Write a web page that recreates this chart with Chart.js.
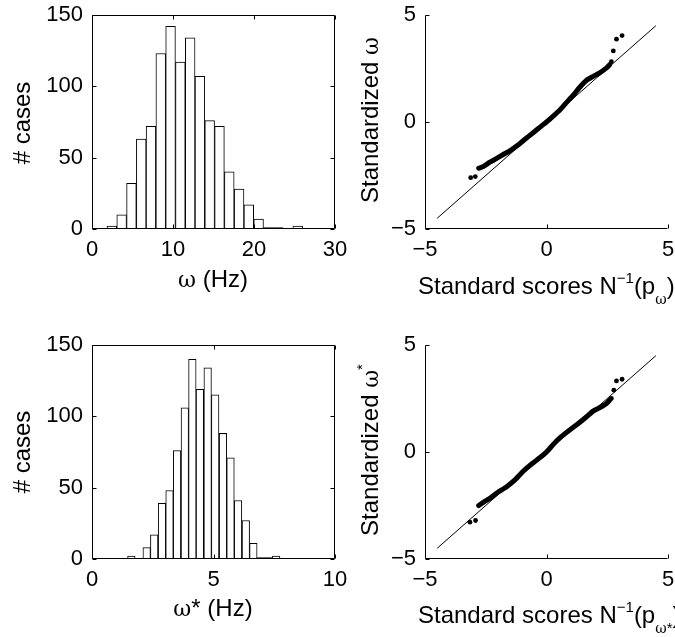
<!DOCTYPE html>
<html>
<head>
<meta charset="utf-8">
<script src="https://cdn.jsdelivr.net/npm/chart.js@4.4.1/dist/chart.umd.min.js"></script>
<style>
  html, body { margin: 0; padding: 0; background: #fff; overflow: hidden; }
  #wrap { position: relative; width: 675px; height: 637px; overflow: hidden; font-family: "Liberation Sans", Arial, sans-serif; color: #000; }
  canvas { position: absolute; }
  .lbl { position: absolute; font-size: 24px; white-space: nowrap; transform: translate(-50%, -50%); line-height: 1; }
  .rot { transform: translate(-50%, -50%) rotate(-90deg); }
  .left { transform: translate(0, -50%); }
  .w { font-family: "DejaVu Serif", "Liberation Serif", serif; font-size: 22px; }
  sup { font-size: 15px; vertical-align: 11px; line-height: 0; }
  sub { font-size: 15px; vertical-align: -10px; line-height: 0; }
</style>
</head>
<body>
<div id="wrap">
  <canvas id="histW" width="360" height="318" style="left:0;top:0"></canvas>
  <canvas id="qqW" width="350" height="318" style="left:340px;top:0"></canvas>
  <canvas id="histWs" width="360" height="307" style="left:0;top:330px"></canvas>
  <canvas id="qqWs" width="350" height="307" style="left:340px;top:330px"></canvas>

  <div class="lbl rot" style="left:22px;top:123px"># cases</div>
  <div class="lbl" style="left:213px;top:279px"><span class="w">ω</span> (Hz)</div>
  <div class="lbl rot" style="left:370px;top:120px">Standardized <span class="w">ω</span></div>
  <div class="lbl left" style="left:418px;top:286px">Standard scores N<sup>−1</sup>(p<sub class="w" style="font-size:14px">ω</sub>)</div>

  <div class="lbl rot" style="left:22px;top:452px"># cases</div>
  <div class="lbl" style="left:213px;top:608px"><span class="w">ω</span>* (Hz)</div>
  <div class="lbl rot" style="left:370px;top:450px">Standardized <span class="w">ω</span><sup>*</sup></div>
  <div class="lbl left" style="left:418px;top:615px">Standard scores N<sup>−1</sup>(p<sub><span class="w" style="font-size:14px">ω</span>*</sub>)</div>
</div>

<script>
// histogram of omega (Hz): bin centres and counts
const binsW = [2.45, 3.66, 4.87, 6.08, 7.28, 8.49, 9.70, 10.91, 12.12, 13.32,
               14.53, 15.74, 16.95, 18.16, 19.36, 20.57, 21.78, 22.99, 24.20, 25.40];
const countsW = [2, 10, 32, 63, 72, 123, 142, 117, 134, 107,
                 76, 72, 40, 28, 17, 7, 1, 1, 0, 2];

// histogram of omega* (Hz)
const binsWs = [1.62, 1.94, 2.25, 2.56, 2.88, 3.19, 3.50, 3.82, 4.13, 4.44,
                4.76, 5.07, 5.39, 5.70, 6.01, 6.33, 6.64, 6.95, 7.27, 7.58];
const countsWs = [2, 0, 8, 17, 39, 48, 76, 106, 140, 119,
                  134, 115, 88, 71, 41, 27, 11, 1, 1, 2];

// normal probability plot of omega: dense body + isolated points
const qqBodyXW = [-2.79, -2.6, -2.33, -2.05, -1.78, -1.51, -1.2, -0.9, -0.55, -0.2, 0,
                  0.3, 0.55, 0.8, 1.09, 1.35, 1.64, 1.9, 2.19, 2.47, 2.6];
const qqBodyYW = [-2.16, -2.08, -1.88, -1.70, -1.52, -1.35, -1.1, -0.82, -0.5, -0.18, 0,
                  0.3, 0.56, 0.88, 1.24, 1.6, 1.94, 2.12, 2.3, 2.53, 2.68];
const qqDotsXW = [-3.12, -2.93, 2.67, 2.75, 2.88, 3.11];
const qqDotsYW = [-2.60, -2.55, 2.82, 3.32, 3.87, 4.04];

// normal probability plot of omega*
const qqBodyXWs = [-2.79, -2.6, -2.33, -2.0, -1.64, -1.3, -0.96, -0.6, -0.2, 0,
                   0.3, 0.55, 0.9, 1.23, 1.6, 1.92, 2.2, 2.47, 2.6];
const qqBodyYWs = [-2.5, -2.35, -2.16, -1.88, -1.62, -1.3, -0.9, -0.55, -0.2, 0,
                   0.38, 0.66, 0.98, 1.26, 1.6, 1.91, 2.08, 2.27, 2.42];
const qqDotsXWs = [-3.15, -2.92, 2.67, 2.77, 2.88, 3.11];
const qqDotsYWs = [-3.28, -3.20, 2.5, 2.89, 3.32, 3.40];

// reference line ends
const refLine = [-4.5, 4.5];

const FONT = { family: '"Liberation Sans", Arial, sans-serif', size: 22 };
const minus = v => String(v).replace('-', '\u2212');
const zip = (xs, ys) => xs.map((x, i) => ({ x: x, y: ys[i] }));

// MATLAB style axes: box (or left/bottom only) with inward ticks
const matlabAxes = {
    id: 'matlabAxes',
    afterDraw(chart, args, opts) {
        const ctx = chart.ctx;
        const a = chart.chartArea;
        const x = chart.scales.x, y = chart.scales.y;
        const L = Math.round(a.left) + 0.5, R = Math.round(a.right) - 0.5;
        const T = Math.round(a.top) + 0.5, B = Math.round(a.bottom) - 0.5;
        const len = 4;
        ctx.save();
        ctx.strokeStyle = '#000';
        ctx.lineWidth = 1;
        ctx.beginPath();
        if (opts.box) {
            ctx.rect(L, T, R - L, B - T);
        } else {
            ctx.moveTo(L, T); ctx.lineTo(L, B); ctx.lineTo(R, B);
        }
        x.ticks.forEach(t => {
            const px = Math.round(x.getPixelForValue(t.value)) + 0.5;
            ctx.moveTo(px, B); ctx.lineTo(px, B - len);
            if (opts.box) { ctx.moveTo(px, T); ctx.lineTo(px, T + len); }
        });
        y.ticks.forEach(t => {
            const py = Math.round(y.getPixelForValue(t.value)) + 0.5;
            ctx.moveTo(L, py); ctx.lineTo(L + len, py);
            if (opts.box) { ctx.moveTo(R, py); ctx.lineTo(R - len, py); }
        });
        ctx.stroke();
        ctx.restore();
    }
};

// tick gap is made with the (hidden) tick length so that it does not pad the chart area
function baseScales(canvasH, leftW, xmin, xmax, xstep, ymin, ymax, ystep) {
    return {
        x: {
            type: 'linear', min: xmin, max: xmax, offset: false,
            grid: { display: false, drawTicks: true, tickLength: 8 }, border: { display: false },
            ticks: { stepSize: xstep, font: FONT, color: '#000', padding: 0, maxRotation: 0, callback: minus },
            afterFit: s => { s.height = canvasH - 229; }
        },
        y: {
            type: 'linear', min: ymin, max: ymax,
            grid: { display: false, drawTicks: true, tickLength: 9 }, border: { display: false },
            ticks: { stepSize: ystep, font: FONT, color: '#000', padding: 0, callback: minus },
            afterFit: s => { s.width = leftW; }
        }
    };
}

function makeHist(id, bins, counts, xmax, xstep) {
    const canvas = document.getElementById(id);
    new Chart(canvas, {
        type: 'bar',
        data: {
            datasets: [{
                data: zip(bins, counts),
                backgroundColor: '#fff',
                borderColor: '#000',
                borderWidth: 1,
                barPercentage: 1,
                categoryPercentage: 1
            }]
        },
        options: {
            responsive: false,
            animation: false,
            devicePixelRatio: 1,
            layout: { padding: { top: 15, right: 25, left: 0, bottom: 0 } },
            plugins: { legend: { display: false }, tooltip: { enabled: false }, matlabAxes: { box: true } },
            scales: baseScales(canvas.height, 92, 0, xmax, xstep, 0, 150, 50)
        },
        plugins: [matlabAxes]
    });
}

function makeQQ(id, bx, by, dx, dy) {
    const canvas = document.getElementById(id);
    new Chart(canvas, {
        type: 'scatter',
        data: {
            datasets: [
                {
                    type: 'line',
                    data: zip(refLine, refLine),
                    borderColor: '#000', borderWidth: 1, pointRadius: 0
                },
                {
                    type: 'line',
                    data: zip(bx, by),
                    borderColor: '#000', borderWidth: 5, pointRadius: 0,
                    tension: 0.2, borderCapStyle: 'round', borderJoinStyle: 'round'
                },
                {
                    data: zip(dx, dy),
                    backgroundColor: '#000', borderColor: '#000', pointRadius: 2.4, borderWidth: 0
                }
            ]
        },
        options: {
            responsive: false,
            animation: false,
            devicePixelRatio: 1,
            layout: { padding: { top: 15, right: 22, left: 0, bottom: 0 } },
            plugins: { legend: { display: false }, tooltip: { enabled: false }, matlabAxes: { box: false } },
            scales: baseScales(canvas.height, 85, -5, 5, 5, -5, 5, 5)
        },
        plugins: [matlabAxes]
    });
}

makeHist('histW', binsW, countsW, 30, 10);
makeHist('histWs', binsWs, countsWs, 10, 5);
makeQQ('qqW', qqBodyXW, qqBodyYW, qqDotsXW, qqDotsYW);
makeQQ('qqWs', qqBodyXWs, qqBodyYWs, qqDotsXWs, qqDotsYWs);
</script>
</body>
</html>
